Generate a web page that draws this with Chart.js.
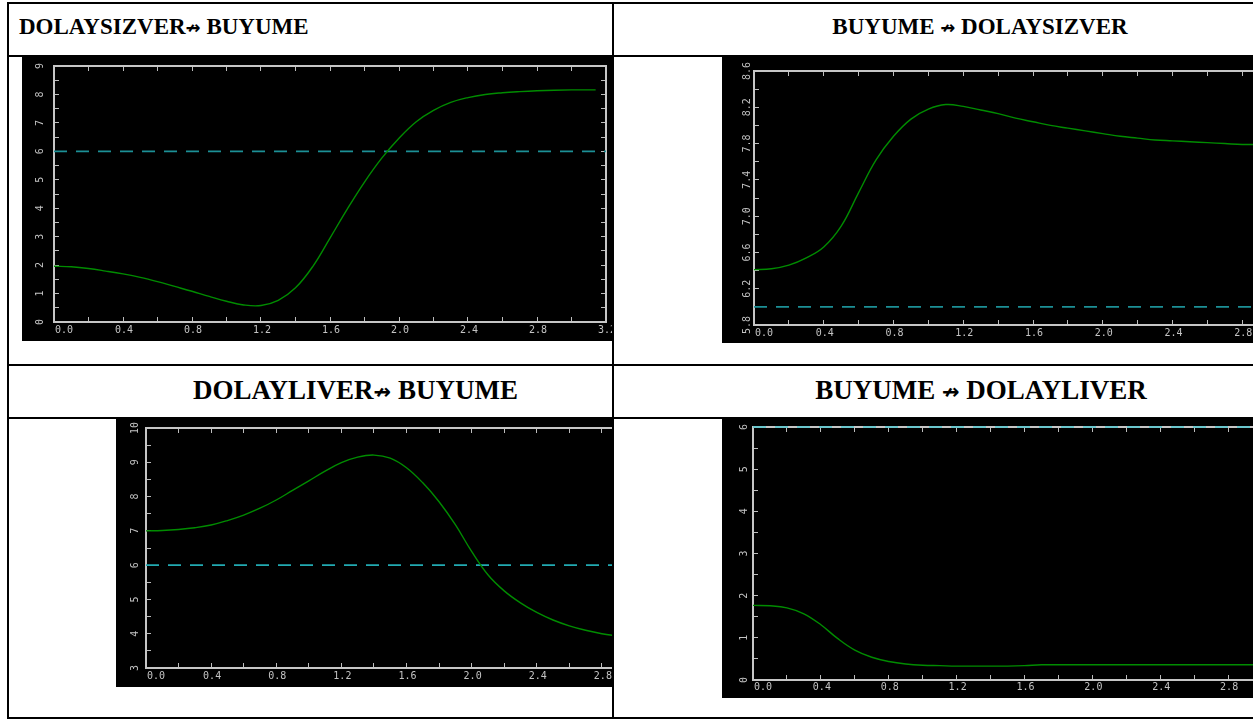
<!DOCTYPE html>
<html>
<head>
<meta charset="utf-8">
<title>Nedensellik grafikleri</title>
<script src="https://cdn.jsdelivr.net/npm/chart.js@4.4.1/dist/chart.umd.min.js"></script>
<style>
  html, body { margin: 0; padding: 0; background: #fff; }
  body { width: 1253px; height: 721px; position: relative; overflow: hidden; }
  .hline { position: absolute; left: 7px; width: 1246px; height: 2px; background: #000; z-index: 5; }
  .vline { position: absolute; top: 2px; width: 2px; height: 717px; background: #000; z-index: 5; }
  .title { position: absolute; font-family: "Liberation Serif", "Times New Roman", serif; font-weight: bold;
           color: #000; white-space: nowrap; }
  .top { font-size: 23px; line-height: 23px; top: 15px; }
  .bottom { font-size: 27px; line-height: 27px; top: 377px; }
  .title .arr { font-family: "DejaVu Sans"; font-weight: bold; font-size: 0.78em; }
  .center { transform: translateX(-50%); }
  .plot { position: absolute; background: #000; overflow: hidden; }
  .plot canvas { position: absolute; left: 0; top: 0; }
</style>
</head>
<body>

<div class="hline" style="top:2px"></div>
<div class="hline" style="top:55px"></div>
<div class="hline" style="top:364px"></div>
<div class="hline" style="top:417px"></div>
<div class="hline" style="top:717px"></div>
<div class="vline" style="left:7px"></div>
<div class="vline" style="left:612px"></div>

<div class="title top" style="left:19px">DOLAYSIZVER<span class="arr">&#x219B;</span> BUYUME</div>
<div class="title top center" style="left:980px">BUYUME <span class="arr">&#x219B;</span> DOLAYSIZVER</div>
<div class="title bottom" style="left:193px">DOLAYLIVER<span class="arr">&#x219B;</span> BUYUME</div>
<div class="title bottom center" style="left:981px">BUYUME <span class="arr">&#x219B;</span> DOLAYLIVER</div>

<div class="plot" style="left:22px; top:57px; width:591px; height:284px"><canvas id="chart1" width="604" height="284"></canvas></div>
<div class="plot" style="left:722px; top:57px; width:531px; height:286px"><canvas id="chart2" width="610" height="286"></canvas></div>
<div class="plot" style="left:116px; top:419px; width:497px; height:268px"><canvas id="chart3" width="571" height="268"></canvas></div>
<div class="plot" style="left:722px; top:419px; width:531px; height:279px"><canvas id="chart4" width="594" height="279"></canvas></div>

<script>
// x axis is the same for all four panels
const xTickLabels = ['0.0', '0.4', '0.8', '1.2', '1.6', '2.0', '2.4', '2.8', '3.2'];
const thresholdX = [0, 3.2];
const threshold = [6, 6];

// DOLAYSIZVER -> BUYUME
const xs1 = [0, 0.1, 0.2, 0.3, 0.4, 0.5, 0.6, 0.7, 0.8, 0.9, 1.0, 1.1, 1.2, 1.3, 1.4, 1.5,
             1.6, 1.7, 1.8, 1.9, 2.0, 2.1, 2.2, 2.3, 2.4, 2.5, 2.6, 2.7, 2.8, 2.9, 3.0, 3.1, 3.14];
const ys1 = [1.96, 1.94, 1.88, 1.79, 1.69, 1.57, 1.42, 1.25, 1.08, 0.90, 0.73, 0.60, 0.58, 0.76, 1.20, 1.95,
             2.95, 3.97, 4.92, 5.76, 6.46, 7.04, 7.44, 7.72, 7.89, 8.00, 8.06, 8.10, 8.13, 8.15, 8.16, 8.16, 8.16];
const yTickLabels1 = ['0', '1', '2', '3', '4', '5', '6', '7', '8', '9'];

// BUYUME -> DOLAYSIZVER
const xs2 = [0, 0.1, 0.2, 0.3, 0.4, 0.5, 0.6, 0.7, 0.8, 0.9, 1.0, 1.1, 1.2, 1.3, 1.4, 1.5,
             1.6, 1.7, 1.8, 1.9, 2.0, 2.1, 2.2, 2.3, 2.4, 2.5, 2.6, 2.7, 2.8, 2.9];
const ys2 = [6.41, 6.42, 6.46, 6.54, 6.66, 6.89, 7.26, 7.62, 7.88, 8.07, 8.18, 8.23, 8.21, 8.17, 8.13, 8.08,
             8.04, 8.00, 7.97, 7.94, 7.91, 7.88, 7.86, 7.84, 7.83, 7.82, 7.81, 7.80, 7.79, 7.79];
const yTickLabels2 = ['5.8', '6.2', '6.6', '7.0', '7.4', '7.8', '8.2', '8.6'];

// DOLAYLIVER -> BUYUME
const xs3 = [0, 0.1, 0.2, 0.3, 0.4, 0.5, 0.6, 0.7, 0.8, 0.9, 1.0, 1.1, 1.2, 1.3, 1.4, 1.5,
             1.6, 1.7, 1.8, 1.9, 2.0, 2.1, 2.2, 2.3, 2.4, 2.5, 2.6, 2.7, 2.8, 2.9];
const ys3 = [7.00, 7.01, 7.04, 7.09, 7.17, 7.30, 7.46, 7.66, 7.90, 8.18, 8.46, 8.74, 8.99, 9.15, 9.21, 9.12,
             8.84, 8.40, 7.85, 7.18, 6.40, 5.72, 5.25, 4.90, 4.62, 4.40, 4.23, 4.10, 4.00, 3.93];
const yTickLabels3 = ['3', '4', '5', '6', '7', '8', '9', '10'];

// BUYUME -> DOLAYLIVER
const xs4 = [0, 0.1, 0.2, 0.3, 0.4, 0.5, 0.6, 0.7, 0.8, 0.9, 1.0, 1.1, 1.2, 1.3, 1.4, 1.5,
             1.6, 1.7, 1.8, 1.9, 2.0, 2.1, 2.2, 2.3, 2.4, 2.5, 2.6, 2.7, 2.8, 2.9, 3.0];
const ys4 = [1.77, 1.76, 1.71, 1.57, 1.31, 0.98, 0.71, 0.54, 0.44, 0.38, 0.35, 0.34, 0.33, 0.33, 0.33, 0.33,
             0.34, 0.36, 0.36, 0.36, 0.36, 0.36, 0.36, 0.36, 0.36, 0.36, 0.36, 0.36, 0.36, 0.36, 0.36];
const yTickLabels4 = ['0', '1', '2', '3', '4', '5', '6'];

function points(xs, ys) {
    return xs.map(function(x, i) { return { x: x, y: ys[i] }; });
}

// label only every "every" units, the ticks in between stay unlabelled
function labelFor(v, start, every, labels) {
    var k = (v - start) / every;
    var r = Math.round(k);
    return Math.abs(k - r) < 1e-6 && labels[r] !== undefined ? labels[r] : '';
}

var tickFont = { family: 'DejaVu Sans Mono', size: 10 };
var frame = { color: '#c6c6c6', width: 2 };

function makeChart(id, c) {
    const ctx = document.getElementById(id).getContext('2d');
    return new Chart(ctx, {
        type: 'line',
        data: {
            datasets: [{
                data: points(c.xs, c.ys),
                borderColor: '#008c00',
                borderWidth: 1.4,
                pointRadius: 0,
                tension: 0.4
            }, {
                data: points(thresholdX, threshold),
                borderColor: c.dashColor,
                borderWidth: 1.6,
                borderDash: [13, 9],
                pointRadius: 0,
                clip: false
            }]
        },
        options: {
            responsive: false,
            animation: false,
            events: [],
            layout: { padding: { left: 0, top: c.top, right: 20, bottom: 0 } },
            plugins: { legend: { display: false }, tooltip: { enabled: false } },
            scales: {
                x: {
                    type: 'linear', position: 'bottom', min: 0, max: 3.2,
                    afterFit: function(s) { s.height = c.bottom; s.paddingLeft = 0; s.paddingRight = 0; },
                    ticks: {
                        stepSize: 0.2, autoSkip: false, minRotation: 0, maxRotation: 0,
                        padding: c.xPad, labelOffset: 1, color: '#c4c4c4', font: tickFont,
                        callback: function(v) {
                            var s = labelFor(v, 0, 0.4, xTickLabels);
                            // first label starts at the tick instead of being centred on it
                            return v === 0 ? '   ' + s : s;
                        }
                    },
                    grid: { drawOnChartArea: false, tickLength: -5, tickColor: '#bdbdbd', tickWidth: 1 },
                    border: frame
                },
                x2: {
                    type: 'linear', position: 'top', min: 0, max: 3.2,
                    afterFit: function(s) { s.height = 0; s.paddingLeft = 0; s.paddingRight = 0; },
                    ticks: { stepSize: 0.2, autoSkip: false, display: false },
                    grid: { drawOnChartArea: false, tickLength: -5, tickColor: '#bdbdbd', tickWidth: 1 },
                    border: frame
                },
                y: {
                    type: 'linear', position: 'left', min: c.yMin, max: c.yMax,
                    afterFit: function(s) { s.width = c.left; s.paddingTop = 0; s.paddingBottom = 0; },
                    ticks: {
                        stepSize: c.yStep, autoSkip: false, minRotation: 90, maxRotation: 90,
                        crossAlign: 'center', padding: c.yPad, color: '#c4c4c4', font: tickFont,
                        callback: function(v) { return labelFor(v, c.yMin, c.yEvery, c.yLabels); }
                    },
                    grid: { drawOnChartArea: false, tickLength: -5, tickColor: '#bdbdbd', tickWidth: 1 },
                    border: frame
                },
                y2: {
                    type: 'linear', position: 'right', min: c.yMin, max: c.yMax,
                    afterFit: function(s) { s.width = 0; s.paddingTop = 0; s.paddingBottom = 0; },
                    ticks: { stepSize: c.yStep, autoSkip: false, display: false },
                    grid: { drawOnChartArea: false, tickLength: -5, tickColor: '#bdbdbd', tickWidth: 1 },
                    border: frame
                }
            }
        }
    });
}

document.addEventListener('DOMContentLoaded', function() {
    makeChart('chart1', { xs: xs1, ys: ys1, yMin: 0, yMax: 9, yStep: 0.5, yEvery: 1, yLabels: yTickLabels1,
        dashColor: '#1c9096', left: 32, top: 9, bottom: 19, yPad: 15.5, xPad: 7.5 });
    makeChart('chart2', { xs: xs2, ys: ys2, yMin: 5.8, yMax: 8.6, yStep: 0.2, yEvery: 0.4, yLabels: yTickLabels2,
        dashColor: '#1c9096', left: 32, top: 14, bottom: 18, yPad: 2.5, xPad: 7.5 });
    makeChart('chart3', { xs: xs3, ys: ys3, yMin: 3, yMax: 10, yStep: 0.5, yEvery: 1, yLabels: yTickLabels3,
        dashColor: '#22aab2', left: 30, top: 9, bottom: 19, yPad: 10, xPad: 7.5 });
    makeChart('chart4', { xs: xs4, ys: ys4, yMin: 0, yMax: 6, yStep: 0.5, yEvery: 1, yLabels: yTickLabels4,
        dashColor: '#4cc6ce', left: 31, top: 8, bottom: 18, yPad: 11, xPad: 6 });
});
</script>
</body>
</html>
